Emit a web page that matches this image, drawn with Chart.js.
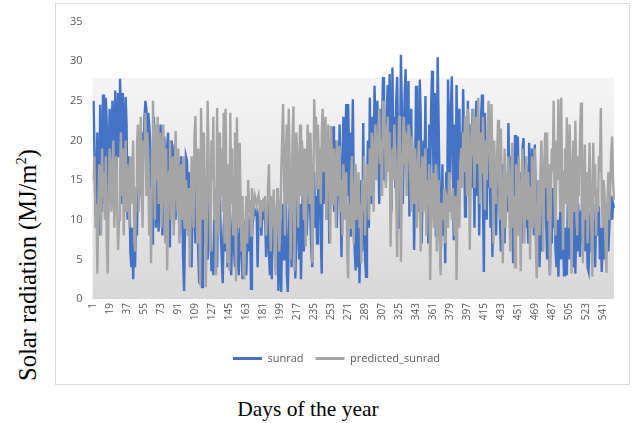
<!DOCTYPE html>
<html><head><meta charset="utf-8">
<script src="https://cdn.jsdelivr.net/npm/chart.js@4.4.1/dist/chart.umd.min.js"></script>
<style>
html,body{margin:0;padding:0;background:#fff;width:634px;height:423px;overflow:hidden;}
#box{position:absolute;left:55px;top:3px;width:575px;height:382px;border:1px solid #d9d9d9;box-sizing:border-box;}
#ytitle{position:absolute;left:28px;top:265px;transform:translate(-50%,-50%) rotate(-90deg);white-space:nowrap;font-family:"Liberation Serif","Times New Roman",serif;font-size:24.5px;color:#000;}
#xtitle{position:absolute;left:308px;top:409px;transform:translate(-50%,-50%);white-space:nowrap;font-family:"Liberation Serif","Times New Roman",serif;font-size:21.5px;color:#000;}
sup{font-size:0.6em;vertical-align:0.7em;line-height:0;}
</style></head>
<body>
<div id="box"><canvas id="c" width="573" height="380"></canvas></div>
<div id="ytitle">Solar radiation (MJ/m<sup>2</sup>)</div>
<div id="xtitle">Days of the year</div>
<script>
const seriesNames = ["sunrad", "predicted_sunrad"];
const dayCount = 553;
const days = Array.from({length: dayCount}, (_, i) => String(i + 1));
const tickEvery = 18;
const yTicks = [0, 5, 10, 15, 20, 25, 30, 35];

const sunrad = [
25,18,10.5,14,21,13,8,24.5,16,11,25.8,19,12,25.4,22,9,17,24,14,20,
25,13,19,26.3,15,22,26,18,27.8,24,12,26,20,15,25.5,22,10,18,14,6,
4,9,2.5,7,4,10,8,15,12,19,17,13,21,18,23,25,24,19,23.5,22,
20,11,7,14,23,17,9,21,12,8.5,16,22,19,8,13,20.5,15,11,19,21,
14,6.5,18,20,12,16,19.5,10,15,18.5,13,8,17,18,11,5,1,9,18,17.5,
14,12,16,5,4,13,17,11,7,15,12,6,2,10,14,1.5,9,12,7,15,
11,5,8,13,9,3.5,6,3,10,12,7,4,13,13.5,12,8,5,2,9,11,
6,10,4,8,12,5,3,9,11,6,4,7,10,5.5,3,8,10.5,6,2.5,9,
5,10,3,8,10.4,6,10,1.3,7,11,10.5,11.2,10.8,11,4,10.6,11,10.8,8,11,
10.5,11,10,5.3,9,12,6,3,8,2.5,11,13,7,4,9,14,1,6,10,0.9,
8,12,5,10,14,3,0.9,7,12,9,4,11,6,12,2.6,8,13,10,5,12,
2.5,9,14,6,12,15,8,11,13,17.2,10,6,4,12,16,9,13,7,15,11,
14,8,3.2,19.7,12,17,20,10,15,18,7,13,19,16,21.8,11,17,20,9,14,
16,22,12,5.3,18,23,15,20,24.6,13,24.6,19,8,21,17,25.2,14,6,3.6,10,
4,12,2,8,15,6,22.2,11,5,2.8,14,20,9,25.4,18,12,23,16,26.9,21,
16.7,25,19,12,24,18,22,28,15,20,14.6,24,27,17,28.4,21,11,29.2,19,23,
14,25,28,20,9,17,30.8,24,12,19,26,29,22,15,27.5,10.4,20,24,13,18,
6.2,15,26.9,21,11,18,27.7,23,7,14,20,16,25.6,12,19,7,22,15,24,28.8,
20,13,26,7.9,18,30.5,22,14,4.1,10,17,8,12,4.5,16,11,27.7,20,15,24,
28.1,18,7.4,22,13,27,19,10,24,14.6,21,17,26.5,20,10.4,23,16,25,19,12,
22,14,24,18,9,21,25,13,20,8,17,23,25.8,12,3.4,23.5,16,10,19,14,
21,9,16,5.3,12,18,15,8,17,13,18.9,10,6,15,17,12,7,16,14,11,
22.2,15,9,18,12,4.5,14,20.7,17,10,20.5,13,8,16,7,19,20.3,14,9,17,
12,7,19.7,15,11,19,14,8,19.5,13,6,10,15,4,9,12,6,11,15,18,
10,5,13,8,3,11,7,14,9,12,6,4,10,2.8,8,11,5,13,7,3,
9,6,3,12,8,5,10,14,7,4,11,3.2,9,6,12,8,5.3,11,13,7,
10,6,12,9,4,3.5,8,11,6,9.5,12,7,4,10,13,8,11.7,5,9,3.4,
7,10,5,12,8,11,6,9,11.7,13,10,12,11.5
];

const predictedSunrad = [
15,18,9,12,3.2,11,17,14,8,19,13,16,10,18,7,3.2,12,19,15,11,
17,20,9,14,18,12,6.2,10,16,21,13,19,8,15,20,11,17,14,9,18,
12,16,20,10,6,14,19,22,11,17,23,15,9,20,18,23.5,13,21,16,8,
14,4.5,19,25,17,10,22,15,23,12,18,21,9,16,22,13,7,19,3.6,11,
16,20,10,14,18,8,13,21.2,15,11,19,7,14,17,10,13,18,9,15,12,
8,14,4,11,18,13,9,20,23.1,15,7,19,12,1.7,24.1,17,10,21,14,1.5,
9,25,18,12,6,20,15,23,10,14,3,24.1,16,8,21,13,19,11,23.5,7,
24,13,4.5,17,3.6,23.5,12,19,8,15,21,2.2,22.9,14,9,19.7,11,6,13,3,
2.8,9,13,7,15,11,12.5,8,14,10,12,13,12.4,11.8,12.6,13.1,12,9,12.5,11,
12.7,11.5,13,8,12,14,17,10,6,13,9,13.8,7,3,10,14,12,6,9,16,
20,24.6,15,8,19,22,12,24,17,5,11,20,24.3,3.5,14,21,18,9,16,22,
13,20,17,10,19,6.6,15,22,18,12,21,16,4.5,11,25.2,20,23,14,22,17,
19,12,21,24,16,20,23,10,18,22,14,7,21.8,17,12,19,15,9,20,13,
18,19.3,11,15,8,17,13,10,16,6,2.6,12,9,15,18,11,7,14,17,10,
13,16,9,12,4.5,15,11,18,8,14,17,14.6,10,19,13,21,16,11,20,22,
15,18,21,24,17,20,13,25,19,22,14,18,23,16,21,6.6,12,19,15,22,
18,12,5.3,16,23.1,20,4.7,14,19,23,17,21,13,18,22,21,15,11,20.5,16,
12,19,15,9,17,20,13,6,16,18,11,14,19,8,15,12,17,2.4,10,15.9,
13,9,14,17,6,11,15,8,3,12,12,10,14,7,13,12.5,9,16,11,13,
10,14,12,8,13,2.4,11,15,9,17,19,14,21,16,23,18,13,24,20,6.2,
15,22,18,24,14,20,23,17,25.4,19,12,21,16,23,18,11.2,20,15,22,25,
19,14,24.6,17,7,20,15,12,18,22.6,16,10,21.5,14,4.5,12,19,9,16,13,
18,11,6,15,19.7,9,13,4,17,12,8,18,14,3.5,11,19,15,7,13,18,
10,16,12,5,14,18,9,13,19,7,2.6,11,15,8,16,20,12,6,17,21,
14,21,10,17,3,13,19,16,25,12,8,20,15,25.2,18,11,25.4,14,6.2,16,
19,12,22.9,16,9,22,14,3.2,17,20,11,22.5,15,8,18,13,21,24.8,16,4.5,
14,19.5,10,16,7,12,19.7,15,9,2.8,19.7,13,17,8,14,11,18,16,24.1,13,
9,15,13,7,3.3,12,16,10,14,18,20.5,15,12.5
];

const bandTopValue = 27.9;

const plotBand = {
  id: 'plotBand',
  beforeDatasetsDraw(chart) {
    const {ctx, chartArea, scales} = chart;
    const y = scales.y;
    const top = y.getPixelForValue(bandTopValue);
    const bottom = y.getPixelForValue(0);
    const g = ctx.createLinearGradient(0, top, 0, bottom);
    g.addColorStop(0, '#f5f5f5');
    g.addColorStop(1, '#d8d8d8');
    ctx.save();
    ctx.fillStyle = g;
    ctx.fillRect(chartArea.left - 1, top, chartArea.right - chartArea.left + 1, bottom - top);
    ctx.restore();
  }
};

const tickFont = {family: "'Open Sans', 'Liberation Sans', sans-serif", size: 10};

new Chart(document.getElementById('c'), {
  type: 'line',
  data: {
    labels: days,
    datasets: [
      {label: seriesNames[0], data: sunrad, borderColor: '#4472C4', backgroundColor: '#4472C4', borderWidth: 2.4, pointRadius: 0, tension: 0, order: 1},
      {label: seriesNames[1], data: predictedSunrad, borderColor: '#A5A5A5', backgroundColor: '#A5A5A5', borderWidth: 2.4, pointRadius: 0, tension: 0, order: 0}
    ]
  },
  options: {
    responsive: false,
    animation: false,
    layout: {padding: {left: 3, right: 15, top: 14, bottom: 10}},
    plugins: {
      tooltip: {enabled: false},
      legend: {
        position: 'bottom',
        labels: {
          boxWidth: 29, boxHeight: 3, padding: 12,
          color: '#595959',
          font: {family: "'Open Sans', 'Liberation Sans', sans-serif", size: 11},
          generateLabels: (chart) => Chart.defaults.plugins.legend.labels.generateLabels(chart).map(l => Object.assign(l, {lineWidth: 0})),
          sort: (a, b) => a.datasetIndex - b.datasetIndex
        }
      }
    },
    scales: {
      x: {
        grid: {display: false, drawTicks: false},
        border: {display: false},
        ticks: {
          autoSkip: false, minRotation: 90, maxRotation: 90, padding: 4,
          color: '#595959', font: tickFont,
          callback: (v, i) => (i % tickEvery === 0 ? days[i] : null)
        },
        afterFit: (axis) => { axis.height = 42; }
      },
      y: {
        min: yTicks[0], max: yTicks[yTicks.length - 1],
        grid: {display: false, drawTicks: false},
        border: {display: false},
        ticks: {stepSize: 5, padding: 11, color: '#595959', font: {family: "'Open Sans', 'Liberation Sans', sans-serif", size: 11}}
      }
    }
  },
  plugins: [plotBand]
});
</script>
</body></html>
